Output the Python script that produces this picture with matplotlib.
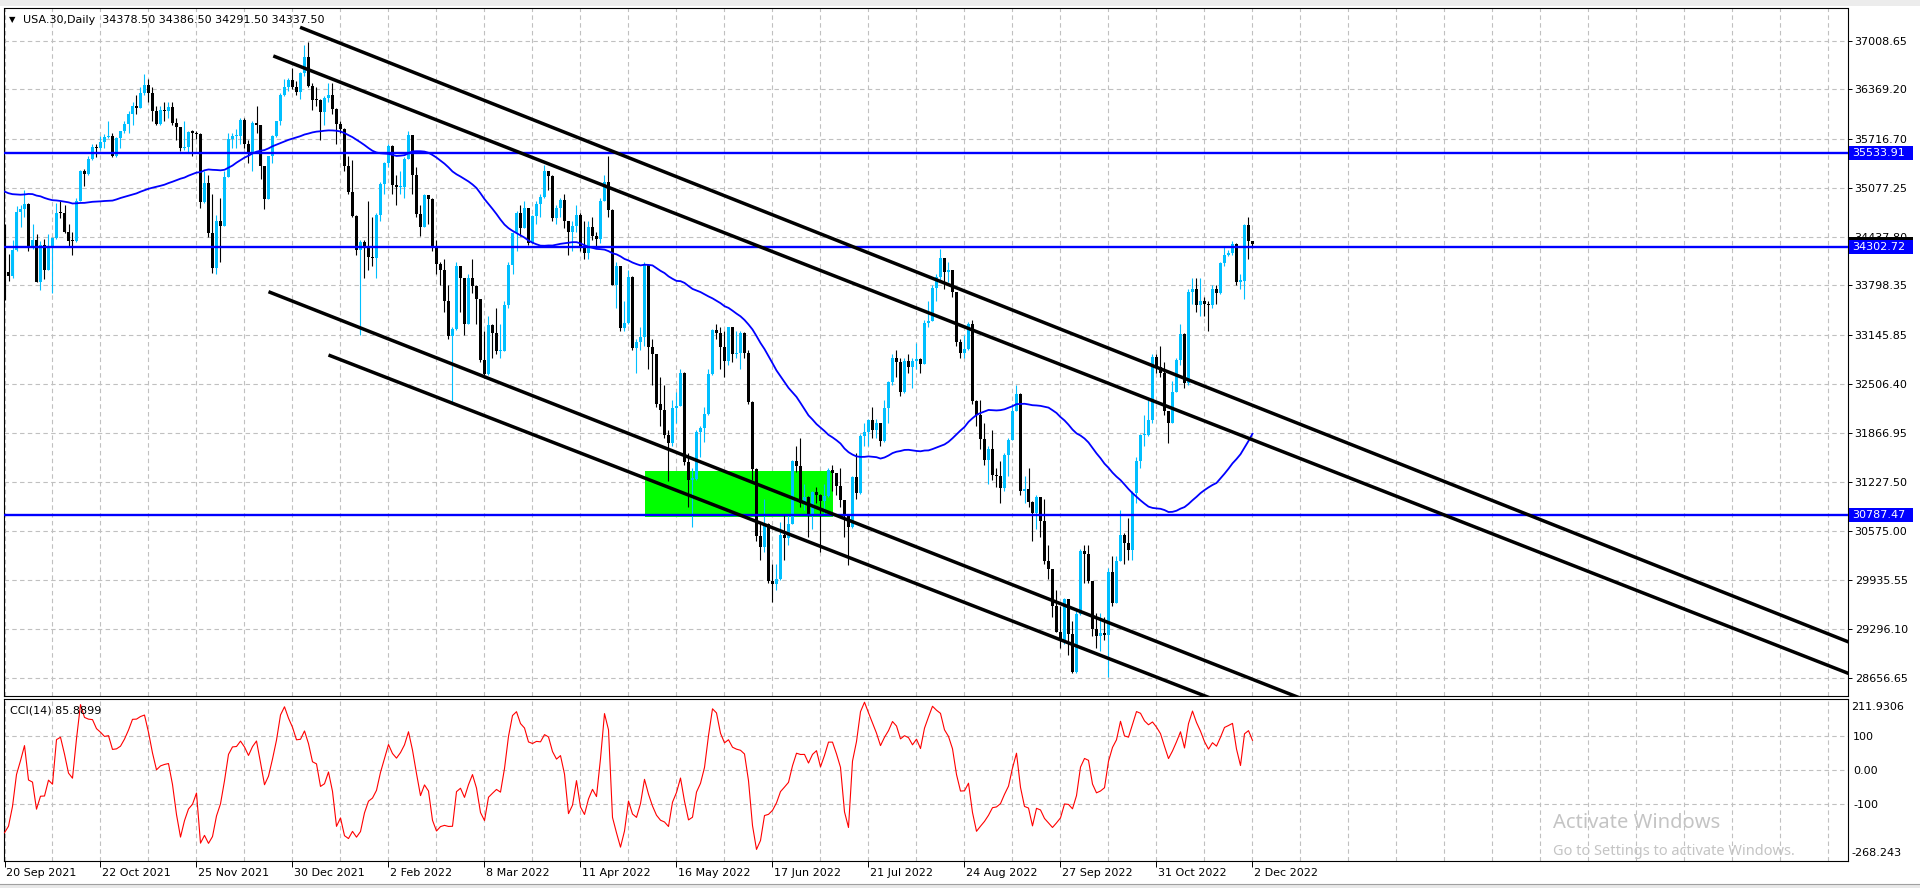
"""USA.30 daily chart: candles, SMA(50), channel lines, levels and CCI(14)."""

import numpy as np
import pandas as pd
import matplotlib
matplotlib.use("Agg")
import matplotlib.pyplot as plt
import matplotlib.transforms as mtransforms
from matplotlib.patches import Rectangle

# closes before the first visible bar, only used to start the 50 bar average
pre_closes = [34421, 34870, 35000, 34889, 34933, 34987, 34688, 33962, 34512, 34798,
              34823, 35062, 35145, 35059, 34931, 35085, 34935, 34838, 35117, 34793,
              35065, 35209, 35102, 35265, 35485, 35500, 35516, 35626, 35344, 34961,
              34894, 35120, 35336, 35367, 35406, 35214, 35456, 35400, 35361, 35313,
              35444, 35369, 35100, 35031, 34879, 34608, 34870, 34577, 34814, 34751,
              34585]

# daily bars, 20 Sep 2021 .. 2 Dec 2022
closes = [
    33970, 33919, 34258, 34764, 34798, 34869, 34299, 34390, 33844, 34326,
    34002, 34314, 34417, 34755, 34746, 34496, 34378, 34377, 34912, 35295,
    35259, 35458, 35610, 35603, 35677, 35741, 35757, 35491, 35731, 35820,
    35913, 36053, 36158, 36124, 36328, 36432, 36320, 36080, 35921, 36100,
    36087, 36142, 35931, 35871, 35602, 35619, 35814, 35804, 35780, 34899,
    35136, 34484, 34022, 34640, 34581, 35227, 35720, 35754, 35754, 35971,
    35650, 35544, 35927, 35898, 35365, 34932, 35493, 35754, 35950, 36302,
    36398, 36488, 36398, 36338, 36585, 36800, 36408, 36236, 36231, 36068,
    36252, 36290, 36114, 35912, 35850, 35369, 35029, 34715, 34265, 34365,
    34298, 34168, 34160, 34725, 35132, 35405, 35630, 35112, 35089, 35091,
    35463, 35768, 35242, 34738, 34566, 34989, 34934, 34312, 34079, 34000,
    33597, 33132, 33224, 34059, 33893, 33295, 33891, 33795, 33615, 32818,
    32633, 33286, 33174, 32944, 32945, 33545, 34064, 34481, 34755, 34553,
    34808, 34359, 34707, 34862, 34956, 35295, 35229, 34678, 34818, 34921,
    34641, 34497, 34584, 34721, 34309, 34221, 34565, 34452, 34412, 34912,
    35161, 34793, 33811, 34049, 33240, 33302, 33916, 32977, 33062, 33129,
    34061, 32998, 32899, 32246, 32161, 31834, 31730, 32197, 32223, 32655,
    31490, 31254, 31262, 31880, 31929, 32120, 32637, 33213, 33180, 32990,
    32813, 33248, 32900, 32916, 33180, 32910, 32273, 31393, 30517, 30365,
    30669, 29927, 29889, 29950, 30530, 30483, 30677, 31500, 31438, 30947,
    31029, 30775, 31097, 31050, 30968, 31037, 31385, 31338, 31174, 30982,
    30773, 30631, 31289, 31073, 31827, 31875, 32036, 31899, 31990, 31762,
    32198, 32529, 32845, 32798, 32397, 32813, 32727, 32803, 32833, 32775,
    33310, 33337, 33761, 33913, 34153, 33981, 33999, 33707, 33064, 32910,
    32970, 33292, 32283, 32099, 31791, 31510, 31656, 31318, 31300, 31146,
    31581, 31775, 32152, 32381, 31105, 31135, 30962, 30822, 31020, 30706,
    30184, 30077, 29590, 29261, 29135, 29684, 29226, 28726, 29491, 30317,
    30274, 29927, 29297, 29203, 29240, 29211, 30039, 29635, 30186, 30524,
    30424, 30334, 31083, 31500, 31837, 31840, 32034, 32862, 32733, 32653,
    32148, 32001, 32403, 32827, 33160, 32514, 33716, 33748, 33537, 33593,
    33554, 33547, 33746, 33700, 34098, 34195, 34230, 34347, 33850, 33853,
    34590, 34378.5, 34337.5]

highs = [
    34600, 34210, 34400, 34840, 34850, 35050, 34880, 34600, 34480, 34380,
    34410, 34470, 34440, 34880, 34900, 34850, 34600, 34500, 34950, 35310,
    35320, 35500, 35650, 35650, 35760, 35780, 35950, 35800, 35750, 35830,
    35950, 36080, 36200, 36300, 36400, 36565, 36500, 36400, 36150, 36150,
    36200, 36200, 36200, 36000, 35880, 35950, 35830, 35840, 35830, 35800,
    35300, 35250, 35000, 34720, 34950, 35300, 35800, 35800, 35850, 36000,
    36000, 35700, 35950, 36150, 35900, 35370, 35500, 35770, 35960, 36320,
    36500, 36520, 36650, 36480, 36600, 36950, 36990, 36450, 36400, 36250,
    36280, 36450, 36450, 36120, 35950, 35860, 35500, 35450, 34720, 34400,
    34400, 34900, 34700, 34750, 35150, 35420, 35650, 35640, 35250, 35300,
    35480, 35820, 35770, 35350, 34850, 35000, 34990, 34940, 34400, 34100,
    34150, 33800, 33250, 34100, 34060, 33900, 33950, 34150, 33800, 33620,
    33200, 33400, 33300, 33500, 33300, 33600, 34100, 34500, 34780, 34850,
    34900, 34810, 34720, 34900, 35000, 35372, 35300, 35250, 34850, 34950,
    35000, 34650, 34650, 34850, 34750, 34650, 34650, 34700, 34500, 34950,
    35250, 35492, 34800, 34100, 34050, 33600, 34000, 33920, 33100, 33250,
    34100, 34070, 33100, 32900, 32600, 32500, 31900, 32300, 32400, 32700,
    32660, 31600, 31400, 31900, 31950, 32200, 32700, 33230, 33300, 33250,
    33200, 33260, 33250, 33200, 33200, 33190, 32950, 32280, 31400, 30700,
    31000, 30680, 30150, 30150, 30700, 30800, 30800, 31510, 31700, 31800,
    31200, 31040, 31100, 31150, 31060, 31200, 31400, 31450, 31340, 31400,
    30990, 30780, 31300, 31600, 31850, 32000, 32050, 32200, 32050, 32000,
    32300, 32550, 32900, 32950, 32850, 32850, 32900, 32850, 33050, 32850,
    33350, 33600, 33800, 33950, 34281, 34160, 34100, 34000, 33710, 33100,
    33150, 33320, 33350, 32300, 32300, 32000, 31700, 31900, 31400, 31500,
    31600, 31800, 32250, 32500, 32390, 31300, 31400, 30970, 31050, 31030,
    31000, 30400, 30080, 29800, 29600, 29700, 29690, 29400, 29550, 30350,
    30400, 30400, 29930, 29500, 29500, 29450, 30100, 30250, 30250, 30850,
    30550, 30750, 31100, 31550, 31850, 32100, 32300, 32900, 32900, 33000,
    32800, 32150, 32550, 32850, 33300, 33170, 33750, 33900, 33900, 33900,
    33650, 33600, 33800, 33800, 34100, 34300, 34270, 34380, 34350, 33950,
    34600, 34690, 34386.5]

lows = [
    33613, 33860, 33900, 34250, 34560, 34700, 34250, 34280, 33840, 33740,
    33880, 34000, 33700, 34410, 34680, 34490, 34300, 34200, 34370, 34900,
    35100, 35250, 35450, 35480, 35580, 35600, 35730, 35480, 35480, 35600,
    35800, 35800, 35900, 36050, 36120, 36300, 36200, 35960, 35900, 35900,
    35950, 36000, 35900, 35700, 35560, 35580, 35550, 35500, 35720, 34820,
    34880, 34440, 33960, 33950, 34100, 34580, 35220, 35600, 35600, 35650,
    35600, 35400, 35300, 35800, 35200, 34800, 34930, 35400, 35750, 35900,
    36280, 36350, 36380, 36300, 36250, 36550, 36400, 36100, 36150, 35700,
    35900, 36200, 36050, 35650, 35800, 35300, 35000, 34700, 34200, 33150,
    33900, 34000, 34050, 33900, 34650, 35000, 35350, 35000, 34850, 35000,
    34950, 35460, 35000, 34700, 34450, 34560, 34600, 34250, 33950, 33800,
    33450, 33100, 32272, 33220, 33450, 33150, 33290, 33700, 33300, 32800,
    32580, 32630, 32850, 32900, 32850, 32940, 33500, 33950, 34250, 34450,
    34550, 34330, 34350, 34600, 34700, 34950, 35050, 34650, 34600, 34700,
    34550, 34200, 34250, 34500, 34250, 34150, 34150, 34400, 34300, 34350,
    34900, 34700, 33800, 33500, 33200, 33200, 33300, 32950, 32650, 32950,
    33000, 32700, 32500, 32200, 31950, 31800, 31230, 31700, 32000, 32220,
    31450, 30900, 30635, 31250, 31550, 31750, 32100, 32630, 33100, 32700,
    32600, 32750, 32800, 32850, 32700, 32850, 32250, 31250, 30450, 30200,
    30300, 29900, 29653, 29800, 29940, 30200, 30400, 30670, 31350, 30900,
    30850, 30500, 30600, 30950, 30300, 30800, 31030, 31100, 31050, 30900,
    30500, 30140, 30620, 31000, 31070, 31700, 31700, 31800, 31800, 31700,
    31750, 32000, 32500, 32600, 32350, 32390, 32650, 32450, 32700, 32650,
    32770, 33250, 33330, 33600, 33850, 33750, 33850, 33650, 33000, 32850,
    32850, 32950, 32250, 31950, 31650, 31450, 31200, 31250, 31150, 30950,
    31100, 31300, 31770, 32150, 31050, 30950, 30900, 30450, 30600, 30500,
    30150, 29950, 29450, 29250, 29050, 29100, 28950, 28715, 28720, 29480,
    29900, 29900, 29200, 29050, 29000, 29150, 28660, 29600, 29630, 30180,
    30150, 30200, 30200, 30950, 31400, 31700, 31830, 32000, 32650, 32600,
    32100, 31730, 32000, 32400, 32750, 32450, 32500, 33550, 33450, 33400,
    33400, 33200, 33500, 33550, 33690, 34050, 34180, 34200, 33800, 33750,
    33620, 34140, 34291.5]

last_open = 34378.50
date_labels = ["20 Sep 2021", "22 Oct 2021", "25 Nov 2021", "30 Dec 2021",
               "2 Feb 2022", "8 Mar 2022", "11 Apr 2022", "16 May 2022",
               "17 Jun 2022", "21 Jul 2022", "24 Aug 2022", "27 Sep 2022",
               "31 Oct 2022", "2 Dec 2022"]
price_ticks = [37008.65, 36369.20, 35716.70, 35077.25, 34437.80, 33798.35,
               33145.85, 32506.40, 31866.95, 31227.50, 30575.00, 29935.55,
               29296.10, 28656.65]
levels = [35533.91, 34302.72, 30787.47]

# channel lines: start anchor and second anchor (bar index, price)
trend_x0 = [73.9, 67.2, 66.0, 81.0]
trend_y0 = [37184, 36808, 33717, 32887]
trend_x1 = [300, 300, 300, 300]
trend_y1 = [32477, 32022, 28883, 28419]

zone_bars = [160.1, 207.1]
zone_prices = [30760, 31370]

cci_ticks = [100, 0, -100]
cci_tick_labels = ["100", "0.00", "-100"]
cci_range = [-268.243, 211.9306]

W, H = 1920, 888
BULL = "#00BFFF"
GRID = "#c0c0c0"
BLUE = "#0000FF"


def px_axes(fig, left, top, right, bottom):
    return fig.add_axes([left / W, 1 - bottom / H, (right - left) / W, (bottom - top) / H])


closes = np.array(closes, dtype=float)
highs = np.array(highs, dtype=float)
lows = np.array(lows, dtype=float)
opens = np.r_[pre_closes[-1], closes[:-1]]
opens[-1] = last_open
n = len(closes)
x = np.arange(n)

npre = len(pre_closes)
ma = pd.Series(np.r_[pre_closes, closes]).rolling(50).mean().to_numpy()[npre:]
tp = pd.Series(np.r_[pre_closes, (highs + lows + closes) / 3])
sma = tp.rolling(14).mean()
mad = tp.rolling(14).apply(lambda w: np.mean(np.abs(w - w.mean())), raw=True)
cci = ((tp - sma) / (0.015 * mad)).to_numpy()[npre:]

plt.rcParams["font.family"] = ["DejaVu Sans"]
fig = plt.figure(figsize=(W / 100, H / 100), dpi=100)

ax = px_axes(fig, 3.5, 8.5, 1847.7, 696)
ax2 = px_axes(fig, 3.5, 698.5, 1847.7, 861)
xlim = ((3.5 - 4.5) / 4, (1847.7 - 4.5) / 4)

# price panel
ax.set_xlim(*xlim)
ax.set_ylim(28416.3, 37430)
for g in np.arange(0, xlim[1], 12):
    ax.axvline(g, color=GRID, lw=0.8, ls=(0, (4, 3)), zorder=0)
    ax2.axvline(g, color=GRID, lw=0.8, ls=(0, (4, 3)), zorder=0)
for p in price_ticks:
    ax.axhline(p, color=GRID, lw=0.8, ls=(0, (4, 3)), zorder=0)
for c in cci_ticks:
    ax2.axhline(c, color=GRID, lw=0.8, ls=(0, (4, 3)), zorder=0)

ax.add_patch(Rectangle((zone_bars[0], zone_prices[0]), zone_bars[1] - zone_bars[0],
                       zone_prices[1] - zone_prices[0], fc="#00FF00", ec="none", zorder=1))

up = closes >= opens
colors = np.where(up, BULL, "black")
top = np.maximum.reduce([highs, opens, closes])
bot = np.minimum.reduce([lows, opens, closes])
ax.vlines(x, bot, top, colors=colors, lw=0.8, zorder=2)
body_lo = np.minimum(opens, closes)
body_h = np.maximum(np.abs(closes - opens), 14)
ax.bar(x, body_h, bottom=body_lo, width=0.72, color=colors, lw=0, zorder=2)

ax.plot(x, ma, color=BLUE, lw=1.3, zorder=3)
for lv in levels:
    ax.axhline(lv, color=BLUE, lw=1.7, zorder=4)
for x0, y0, x1, y1 in zip(trend_x0, trend_y0, trend_x1, trend_y1):
    slope = (y1 - y0) / (x1 - x0)
    ax.plot([x0, 480], [y0, y0 + slope * (480 - x0)], color="black", lw=2.5,
            solid_capstyle="butt", zorder=4)

ax.yaxis.tick_right()
ax.set_yticks(price_ticks)
ax.set_yticklabels([f"{p:.2f}" for p in price_ticks])
ax.tick_params(axis="y", direction="out", length=3, width=0.7, pad=2, labelsize=8)
ax.tick_params(axis="x", length=0, labelbottom=False)

# value boxes on the price scale
tr = mtransforms.blended_transform_factory(ax.transAxes, ax.transData)
box_w = 64 / (1847.7 - 3.5)
half = 6.9 * (37430 - 28416.3) / (696 - 8.5)
ax.add_patch(Rectangle((1.0008, closes[-1] - half), box_w, 2 * half, transform=tr,
                       fc="black", ec="none", clip_on=False, zorder=5))
for lv in levels:
    ax.add_patch(Rectangle((1.0008, lv - half), box_w, 2 * half, transform=tr,
                           fc=BLUE, ec="none", clip_on=False, zorder=6))
    ax.text(1.0008 + 3 / 1844, lv, f"{lv:.2f}", transform=tr, color="white",
            fontsize=8, va="center", ha="left", zorder=7, clip_on=False)

# CCI panel
ax2.set_xlim(*xlim)
ax2.set_ylim(*cci_range)
ax2.plot(x, cci, color="#FF0000", lw=0.8, zorder=3)
ax2.yaxis.tick_right()
ax2.set_yticks(cci_ticks)
ax2.set_yticklabels(cci_tick_labels)
ax2.tick_params(axis="y", length=0, pad=4, labelsize=8)
label_bars = np.arange(len(date_labels)) * 24
ax2.set_xticks(label_bars)
ax2.set_xticklabels([])
ax2.tick_params(axis="x", direction="out", length=4, width=0.7)
xtr = mtransforms.blended_transform_factory(ax2.transData, ax2.transAxes)
shift = mtransforms.ScaledTranslation(1.5 / 100, 0, fig.dpi_scale_trans)
label_y = (861 - 872.5) / (861 - 698.5)
for b, lab in zip(label_bars, date_labels):
    ax2.text(b, label_y, lab, transform=xtr + shift, fontsize=8, ha="left",
             va="center", clip_on=False)
fig.text(1851 / W, 1 - 706.7 / H, f"{cci_range[1]:.4f}", fontsize=8, va="center")
fig.text(1851 / W, 1 - 853 / H, f"{cci_range[0]:.3f}", fontsize=8, va="center")

for a in (ax, ax2):
    for s in a.spines.values():
        s.set_linewidth(0.8)
        s.set_color("black")

# texts
fig.text(9 / W, 1 - 20 / H, "\u25bc", fontsize=6, va="center")
fig.text(23 / W, 1 - 20 / H, "USA.30,Daily  34378.50 34386.50 34291.50 34337.50",
         fontsize=8, va="center")
fig.text(9.5 / W, 1 - 710 / H, "CCI(14) 85.8899", fontsize=8, va="center")
fig.text(1553 / W, 1 - 823 / H, "Activate Windows", fontsize=14.5, color="#c4c4c4",
         va="center", family="Noto Sans")
fig.text(1553 / W, 1 - 851 / H, "Go to Settings to activate Windows.", fontsize=10.5,
         color="#c4c4c4", va="center", family="Noto Sans")

# window chrome
fig.patches.append(Rectangle((0, 1 - 6.5 / H), 1, 6.5 / H, transform=fig.transFigure,
                             fc="#ececec", ec="none"))
fig.patches.append(Rectangle((0, 0), 1, 4 / H, transform=fig.transFigure,
                             fc="#e8e8e8", ec="none"))
fig.lines.append(plt.Line2D([0, 1], [4 / H, 4 / H], transform=fig.transFigure,
                            color="#a0a0a0", lw=0.8))

fig.savefig("out.png", dpi=100, facecolor="white")
